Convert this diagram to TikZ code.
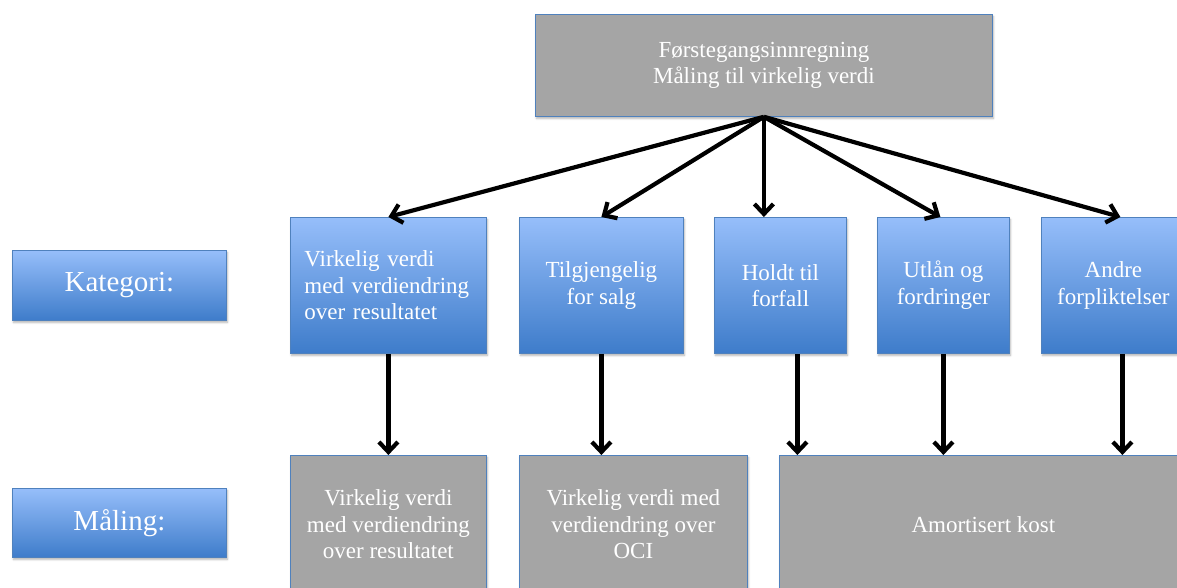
\documentclass[tikz,border=0pt]{standalone}
\usepackage{fontspec}
\setmainfont{Liberation Serif}
\usetikzlibrary{arrows.meta,shadows.blur}

\definecolor{boxgray}{RGB}{165,165,165}
\definecolor{edgeblue}{RGB}{79,129,189}
\definecolor{bluetop}{RGB}{150,190,250}
\definecolor{bluebot}{RGB}{62,124,202}

\begin{document}
\begin{tikzpicture}[x=1pt,y=-1pt,
  base/.style={draw=edgeblue, line width=0.8pt, text=white, inner sep=0pt,
    align=center, anchor=north west, font=\fontsize{23}{26.5}\selectfont},
  softshadow/.style={blur shadow={shadow xshift=1pt, shadow yshift=-2pt,
    shadow blur radius=2pt, shadow opacity=30}},
  graybox/.style={base, fill=boxgray, softshadow},
  bluebox/.style={base, top color=bluetop, bottom color=bluebot, softshadow},
  arr/.style={-{Straight Barb[length=10pt,width=19pt]}, line width=4.2pt}]

\useasboundingbox (0,0) rectangle (1177,588);
\clip (0,0) rectangle (1177,588);

% initial recognition
\node[graybox, minimum width=457pt, minimum height=102pt] (top) at (535,14)
  {Førstegangsinnregning\\Måling til virkelig verdi};

% row labels
\node[bluebox, minimum width=214pt, minimum height=70pt,
  font=\fontsize{29}{32}\selectfont] (lab1) at (12,250) {Kategori:};
\node[bluebox, minimum width=214pt, minimum height=69pt,
  font=\fontsize{29}{32}\selectfont] (lab2) at (12,488) {Måling:};

% categories
\node[bluebox, minimum width=196pt, minimum height=136pt,
  text width=168pt, align=left] (k1) at (290,217)
  {Virkelig verdi\\med verdiendring\\over resultatet};
\node[bluebox, minimum width=164pt, minimum height=136pt] (k2) at (519,217)
  {Tilgjengelig\\for salg};
\node[bluebox, minimum width=132pt, minimum height=136pt] (k3) at (714,217)
  {Holdt til\\forfall};
\node[bluebox, minimum width=132pt, minimum height=136pt] (k4) at (877,217)
  {Utlån og\\fordringer};
\node[bluebox, minimum width=144pt, minimum height=136pt] (k5) at (1041,217)
  {Andre\\forpliktelser};

% measurement
\node[graybox, minimum width=196pt, minimum height=138pt] (m1) at (290,455)
  {Virkelig verdi\\med verdiendring\\over resultatet};
\node[graybox, minimum width=228pt, minimum height=138pt] (m2) at (519,455)
  {Virkelig verdi med\\verdiendring over\\OCI};
\node[graybox, minimum width=408pt, minimum height=138pt] (m3) at (779,455)
  {Amortisert kost};

% connectors from the initial recognition
\draw[arr] (top.south) -- (k1.north);
\draw[arr] (top.south) -- (k2.north);
\draw[arr] (top.south) -- (top.south |- k3.north);
\draw[arr] (top.south) -- ([xshift=-3pt]k4.north);
\draw[arr] (top.south) -- ([xshift=7pt]k5.north);

% connectors from category to measurement
\draw[arr] (k1.south) -- (m1.north);
\draw[arr] (k2.south) -- (k2.south |- m2.north);
\draw[arr] ([xshift=17pt]k3.south) -- ([xshift=17pt]k3.south |- m3.north);
\draw[arr] (k4.south) -- (k4.south |- m3.north);
\draw[arr] ([xshift=9pt]k5.south) -- ([xshift=9pt]k5.south |- m3.north);
\end{tikzpicture}
\end{document}
